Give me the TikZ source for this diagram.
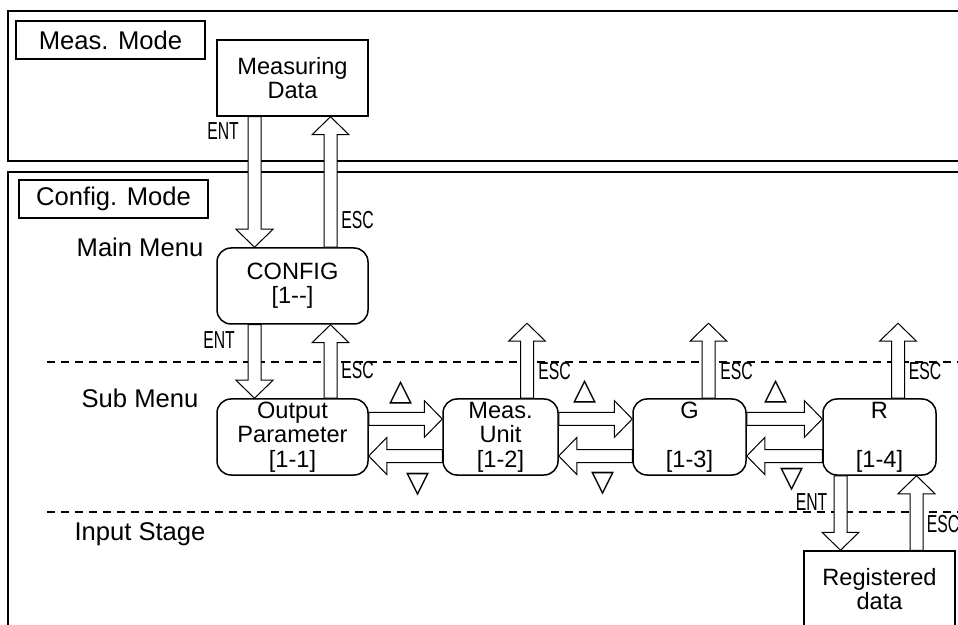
\documentclass[tikz,border=0pt]{standalone}
\usepackage{fontspec}
\setmainfont{Liberation Sans}
\newfontfamily\symfont{DejaVu Sans}
\usepackage{graphicx}
\usetikzlibrary{calc}

% key names are set in a narrow face
\newcommand{\narrowkey}[1]{\scalebox{0.64}[1]{#1}}

\tikzset{
  modebox/.style={draw, line width=0.8pt, minimum width=94.5pt, minimum height=19pt,
    inner sep=0pt, font=\fontsize{12.8}{13}\selectfont},
  stagelbl/.style={anchor=base, inner sep=0pt, font=\fontsize{12.8}{13}\selectfont},
  databox/.style={draw, line width=0.75pt, fill=white, minimum width=75.5pt, minimum height=38pt,
    inner sep=0pt, align=center, font=\fontsize{11.8}{12.2}\selectfont},
  menubox/.style={databox, rounded corners=7pt},
  keylbl/.style={inner sep=0pt, font=\fontsize{12.3}{12}\selectfont},
  keysym/.style={inner sep=0pt, font=\symfont\fontsize{15}{15}\selectfont},
  divider/.style={dashed, dash pattern=on 4pt off 3pt, line width=0.6pt},
  fatarrow/.style={draw, fill=white, line width=0.5pt,
    to path={let \p1=(\tikztostart), \p2=(\tikztotarget),
      \n1={atan2(\y2-\y1,\x2-\x1)}, \n2={veclen(\x2-\x1,\y2-\y1)} in
      (\p1) ++({\n1+90}:3.25pt) -- ++(\n1:{\n2*1pt-9pt}) -- ++({\n1+90}:6pt)
      -- (\p2) -- ($(\p2)+({\n1+180}:9pt)+({\n1-90}:9.25pt)$)
      -- ++({\n1+90}:6pt) -- ++({\n1+180}:{\n2*1pt-9pt}) -- cycle}}
}

\begin{document}
\begin{tikzpicture}[x=0.5pt, y=-0.5pt]
  \useasboundingbox (0,0) rectangle (958,625);
  \clip (0,0) rectangle (958,625);

  % mode frames and stage dividers
  \draw[line width=1pt] (8,11) rectangle (975,161);
  \draw[line width=1pt] (8,172) rectangle (975,640);
  \draw[divider] (47,362) -- (975,362);
  \draw[divider] (47,512) -- (975,512);

  \node[modebox] (measmode) at (110.5,40) {Meas. Mode};
  \node[modebox] (cfgmode) at (113.5,199) {Config. Mode};
  \node[stagelbl] (mainlbl) at (140,257) {Main Menu};
  \node[stagelbl] (sublbl) at (140,408) {Sub Menu};
  \node[stagelbl] (inlbl) at (140,540) {Input Stage};

  % menu boxes
  \node[databox] (data) at (292.5,78) {Measuring\\Data};
  \node[menubox] (config) at (292.5,286) {CONFIG\\{[1-{}-]}};
  \node[menubox] (outp) at (292.5,437) {Output\\Parameter\\{[1-1]}};
  \node[menubox, minimum width=57.5pt] (unit) at (500.5,437) {Meas.\\Unit\\{[1-2]}};
  \node[menubox, minimum width=56.5pt] (gain) at (689.5,437) {G\\~\\{[1-3]}};
  \node[menubox, minimum width=56.5pt] (rr) at (879.5,437) {R\\~\\{[1-4]}};
  \node[databox] (reg) at (879.5,589) {Registered\\data};

  % ENT / ESC between the levels
  \draw[fatarrow] ([xshift=-19pt]data.south) to ([xshift=-19pt]config.north);
  \draw[fatarrow] ([xshift=19pt]config.north) to ([xshift=19pt]data.south);
  \draw[fatarrow] ([xshift=-19pt]config.south) to ([xshift=-19pt]outp.north);
  \draw[fatarrow] ([xshift=19pt]outp.north) to ([xshift=19pt]config.south);
  \draw[fatarrow] ([xshift=-19.5pt]rr.south) to ([xshift=-19.5pt]reg.north);
  \draw[fatarrow] ([xshift=18.5pt]reg.north) to ([xshift=18.5pt]rr.south);

  \coordinate (unitesc) at ($(unit.north)+(13.25pt,37.5pt)$);
  \coordinate (gainesc) at ($(gain.north)+(9.5pt,37.5pt)$);
  \coordinate (rresc) at ($(rr.north)+(9.25pt,37.5pt)$);
  \draw[fatarrow] ([xshift=13.25pt]unit.north) to (unitesc);
  \draw[fatarrow] ([xshift=9.5pt]gain.north) to (gainesc);
  \draw[fatarrow] ([xshift=9.25pt]rr.north) to (rresc);

  % up / down keys along the sub menu
  \draw[fatarrow] ([yshift=9pt]outp.east) to ([yshift=9pt]unit.west);
  \draw[fatarrow] ([yshift=-9.5pt]unit.west) to ([yshift=-9.5pt]outp.east);
  \draw[fatarrow] ([yshift=9pt]unit.east) to ([yshift=9pt]gain.west);
  \draw[fatarrow] ([yshift=-9.5pt]gain.west) to ([yshift=-9.5pt]unit.east);
  \draw[fatarrow] ([yshift=9pt]gain.east) to ([yshift=9pt]rr.west);
  \draw[fatarrow] ([yshift=-9.5pt]rr.west) to ([yshift=-9.5pt]gain.east);

  \node[keylbl] (ent1) at (223,131.5) {\narrowkey{ENT}};
  \node[keylbl] (esc1) at (357.5,220) {\narrowkey{ESC}};
  \node[keylbl] (ent2) at (219,340) {\narrowkey{ENT}};
  \node[keylbl] (esc2) at (357.5,370.5) {\narrowkey{ESC}};
  \node[keylbl] (esc3) at (554.5,371) {\narrowkey{ESC}};
  \node[keylbl] (esc4) at (736.5,371) {\narrowkey{ESC}};
  \node[keylbl] (esc5) at (925,371) {\narrowkey{ESC}};
  \node[keylbl] (ent3) at (811.5,502) {\narrowkey{ENT}};
  \node[keylbl] (esc6) at (943,524) {\narrowkey{ESC}};

  \node[keysym] (up1) at (401,392.5) {△};
  \node[keysym] (up2) at (585.5,392) {△};
  \node[keysym] (up3) at (776,392) {△};
  \node[keysym] (dn1) at (418.5,484.5) {▽};
  \node[keysym] (dn2) at (603.5,484) {▽};
  \node[keysym] (dn3) at (792.5,479.5) {▽};
\end{tikzpicture}
\end{document}
